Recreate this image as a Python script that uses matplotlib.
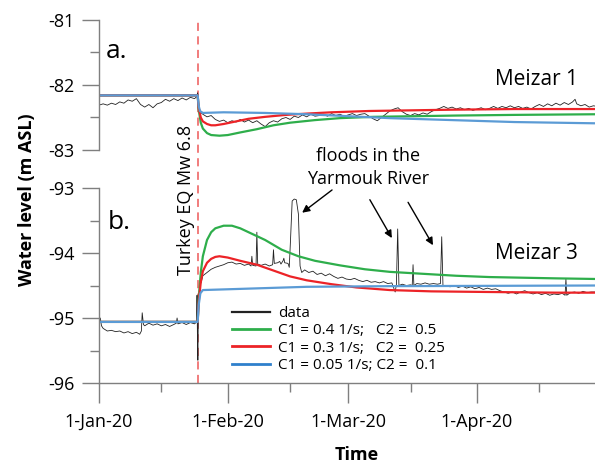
import matplotlib.pyplot as plt
import matplotlib.dates as mdates
import matplotlib.transforms as mtransforms
from matplotlib.lines import Line2D
import numpy as np
from datetime import datetime

plt.rcParams['font.family'] = ['Open Sans', 'DejaVu Sans']

### time axis: days after 1-Jan-20
t0 = mdates.date2num(datetime(2020, 1, 1))
t_end = 119.4
t_eq = 23.75

### Meizar 1 (panel a) - observed
m1_day = [0, 1, 2, 3, 4, 5, 6, 7, 8, 9, 10, 11, 12, 13, 14, 15, 16, 17, 18, 19,
          20, 21, 22, 23, 23.5, 23.75, 24.0, 24.4, 25, 26, 27, 28, 29, 30, 31, 32,
          33, 34, 35, 36, 37, 38, 39, 40, 41, 42, 43, 44, 45, 46, 47, 48, 49, 50,
          51, 52, 53, 54, 55, 56, 57, 58, 59, 60, 61, 62, 63, 64, 65, 66, 67, 68,
          69, 70, 71, 72, 73, 74, 75, 76, 77, 78, 79, 80, 81, 82, 83, 84, 85, 86,
          87, 88, 89, 90, 91, 92, 93, 94, 95, 96, 97, 98, 99, 100, 101, 102, 103,
          104, 105, 106, 107, 108, 109, 110, 111, 112, 113, 114, 114.6, 115, 116,
          117, 118, 119, 120]
m1_level = [-82.31, -82.29, -82.31, -82.28, -82.30, -82.26, -82.28, -82.23, -82.25,
            -82.21, -82.30, -82.34, -82.30, -82.35, -82.29, -82.27, -82.22, -82.25,
            -82.21, -82.24, -82.20, -82.23, -82.19, -82.21, -82.18, -82.12, -82.30,
            -82.42, -82.45, -82.49, -82.47, -82.53, -82.56, -82.54, -82.58, -82.55,
            -82.57, -82.53, -82.57, -82.54, -82.58, -82.55, -82.60, -82.64, -82.58,
            -82.55, -82.57, -82.52, -82.50, -82.53, -82.48, -82.50, -82.46, -82.49,
            -82.45, -82.48, -82.47, -82.45, -82.48, -82.44, -82.47, -82.45, -82.48,
            -82.46, -82.44, -82.47, -82.45, -82.44, -82.48, -82.52, -82.55, -82.50,
            -82.45, -82.40, -82.37, -82.35, -82.41, -82.45, -82.47, -82.44, -82.46,
            -82.43, -82.45, -82.41, -82.38, -82.36, -82.33, -82.36, -82.34, -82.37,
            -82.35, -82.38, -82.36, -82.39, -82.37, -82.35, -82.38, -82.36, -82.33,
            -82.36, -82.33, -82.35, -82.32, -82.35, -82.33, -82.36, -82.34, -82.37,
            -82.33, -82.30, -82.33, -82.29, -82.32, -82.28, -82.31, -82.27, -82.30,
            -82.26, -82.22, -82.29, -82.32, -82.30, -82.34, -82.32, -82.33]

### Meizar 1 - models
m1_green_day = [0, 23.75, 24.0, 24.5, 25, 26, 27, 29, 31, 34, 38, 42, 46, 52, 58,
                66, 76, 86, 100, 120]
m1_green = [-82.16, -82.16, -82.38, -82.58, -82.67, -82.74, -82.77, -82.78, -82.77,
            -82.73, -82.68, -82.62, -82.58, -82.54, -82.51, -82.49, -82.48, -82.47,
            -82.46, -82.45]
m1_red_day = [0, 23.75, 24.0, 24.5, 25, 26, 27, 28, 30, 33, 36, 40, 45, 50, 56, 65,
              75, 85, 100, 120]
m1_red = [-82.16, -82.16, -82.35, -82.50, -82.56, -82.60, -82.62, -82.62, -82.60,
          -82.56, -82.52, -82.49, -82.46, -82.44, -82.42, -82.40, -82.39, -82.38,
          -82.37, -82.37]
m1_blue_day = [0, 23.75, 24.0, 24.3, 25, 30, 40, 50, 60, 70, 80, 90, 100, 110, 120]
m1_blue = [-82.16, -82.16, -82.32, -82.40, -82.43, -82.42, -82.43, -82.45, -82.48,
           -82.51, -82.53, -82.55, -82.57, -82.58, -82.59]

### Meizar 3 (panel b) - observed
m3_day = [0, 0.3, 0.6, 1, 1.5, 2, 3, 4, 5, 6, 7, 8, 9, 9.8, 10.2, 10.4, 10.7, 11,
          12, 13, 14, 15, 16, 17, 18, 18.6, 18.8, 19, 20, 21, 22, 23, 23.5, 23.6,
          23.7, 23.8, 23.9, 24.2, 24.6, 25, 26, 27, 28, 29, 30, 31, 32, 33, 34, 35,
          36, 36.6, 36.8, 37, 37.8, 38, 38.2, 39, 40, 41, 41.8, 42, 42.2, 43, 43.5,
          43.8, 44.3, 44.5, 44.7, 45.5, 45.8, 46.1, 46.5, 47, 47.5, 48, 48.4, 48.8,
          49.5, 50.5, 51.5, 52.5, 53.5, 54.5, 55.5, 56.5, 57.5, 58.5, 59.5, 60.5,
          61.5, 62.5, 63.5, 64.5, 65.5, 66.5, 67.5, 68.5, 69.5, 70.5, 71.3, 71.6,
          71.9, 72.2, 73, 74, 75, 75.4, 75.6, 75.8, 76.5, 77.5, 78.5, 79.5, 80.5,
          81.5, 82.2, 82.5, 82.8, 83.5, 84.5, 85.5, 86.5, 87.5, 88.5, 89.5, 90.5,
          91.5, 92.5, 93.5, 94.5, 95.5, 96.5, 97.5, 98.5, 99.5, 100.5, 101.5, 102.5,
          103.5, 104.5, 105.5, 106.5, 107.5, 108.5, 109.5, 110.5, 111.5, 112.2,
          112.4, 112.6, 113.5, 114.5, 115.5, 116.5, 117.5, 118.5, 119.5, 120]
m3_level = [-95.05, -95.00, -95.12, -95.16, -95.18, -95.20, -95.19, -95.21, -95.20,
            -95.23, -95.21, -95.24, -95.22, -95.25, -95.20, -94.92, -95.10, -95.12,
            -95.08, -95.11, -95.09, -95.12, -95.10, -95.13, -95.10, -95.08, -95.00,
            -95.09, -95.07, -95.10, -95.07, -95.09, -95.06, -94.65, -95.30, -95.65,
            -95.00, -94.50, -94.45, -94.35, -94.30, -94.25, -94.22, -94.20, -94.18,
            -94.15, -94.14, -94.17, -94.16, -94.19, -94.17, -94.20, -94.05, -94.19,
            -94.20, -93.68, -94.17, -94.19, -94.17, -94.20, -94.18, -93.95, -94.16,
            -94.15, -94.13, -94.17, -94.12, -94.08, -94.15, -94.16, -94.22, -93.80,
            -93.20, -93.17, -93.18, -93.40, -94.20, -94.30, -94.26, -94.30, -94.28,
            -94.33, -94.31, -94.35, -94.32, -94.36, -94.39, -94.37, -94.40, -94.41,
            -94.39, -94.42, -94.44, -94.42, -94.45, -94.44, -94.46, -94.44, -94.47,
            -94.46, -94.60, -94.48, -93.63, -94.50, -94.48, -94.50, -94.49, -94.50,
            -94.18, -94.50, -94.47, -94.48, -94.46, -94.48, -94.47, -94.48, -94.47,
            -93.75, -94.50, -94.50, -94.52, -94.50, -94.53, -94.51, -94.54, -94.52,
            -94.55, -94.53, -94.56, -94.54, -94.56, -94.55, -94.58, -94.60, -94.62,
            -94.60, -94.63, -94.60, -94.58, -94.61, -94.63, -94.61, -94.64, -94.62,
            -94.65, -94.63, -94.64, -94.62, -94.65, -94.40, -94.65, -94.61, -94.60,
            -94.62, -94.59, -94.61, -94.60, -94.60, -94.61]

### Meizar 3 - models
m3_green_day = [0, 23.75, 24.0, 24.5, 25, 26, 27, 28, 30, 32, 34, 36, 40, 44, 48,
                52, 58, 64, 70, 78, 86, 94, 102, 110, 120]
m3_green = [-95.06, -95.06, -94.70, -94.30, -94.05, -93.80, -93.68, -93.62, -93.58,
            -93.58, -93.62, -93.68, -93.80, -93.95, -94.05, -94.12, -94.19, -94.25,
            -94.29, -94.32, -94.35, -94.37, -94.38, -94.39, -94.40]
m3_red_day = [0, 23.75, 24.0, 24.5, 25, 26, 27, 28, 29, 31, 34, 38, 42, 46, 50, 56,
              62, 70, 80, 94, 110, 120]
m3_red = [-95.06, -95.06, -94.75, -94.45, -94.28, -94.15, -94.09, -94.06, -94.05,
          -94.07, -94.12, -94.18, -94.27, -94.36, -94.42, -94.48, -94.53, -94.57,
          -94.59, -94.60, -94.61, -94.61]
m3_blue_day = [0, 23.75, 24.0, 24.4, 25, 30, 40, 50, 70, 120]
m3_blue = [-95.06, -95.06, -94.80, -94.62, -94.57, -94.56, -94.54, -94.52, -94.51,
           -94.50]

legend_labels = ['data',
                 'C1 = 0.4 1/s;   C2 =  0.5',
                 'C1 = 0.3 1/s;   C2 =  0.25',
                 'C1 = 0.05 1/s; C2 =  0.1']

### flood arrows (tip, tail) in days / m ASL
flood_tip = [(48.9, -93.38), (70.5, -93.77), (80.4, -93.88)]
flood_tail = [(56.1, -93.03), (65.2, -93.18), (74.4, -93.22)]

### broken y axis: panel a shifted down under panel b
gap = 0.585
shift = (-93 + gap) - (-83)

c_green = '#2eae4b'
c_red = '#ec2327'
c_blue = '#5b9bd5'
c_axis = '#7f7f7f'

def tnum(days):
    return t0 + np.asarray(days, dtype=float)

fig = plt.figure(figsize=(5.95, 4.66), dpi=100)
ax = fig.add_axes([99/595, 1-383/466, 496/595, 363/466])

ax.axvline(tnum(t_eq), color='#f07272', lw=1.3, dashes=(4.5, 3))

# panel a
ax.plot(tnum(m1_day), np.array(m1_level) + shift, color='#222222', lw=0.6)
ax.plot(tnum(m1_green_day), np.array(m1_green) + shift, color=c_green, lw=1.6)
ax.plot(tnum(m1_red_day), np.array(m1_red) + shift, color=c_red, lw=1.6)
ax.plot(tnum(m1_blue_day), np.array(m1_blue) + shift, color=c_blue, lw=1.6)

# panel b
ax.plot(tnum(m3_day), m3_level, color='#222222', lw=0.6)
ax.plot(tnum(m3_green_day), m3_green, color=c_green, lw=1.6)
ax.plot(tnum(m3_red_day), m3_red, color=c_red, lw=1.6)
ax.plot(tnum(m3_blue_day), m3_blue, color=c_blue, lw=1.6)

ax.set_xlim(tnum(0), tnum(t_end))
ax.set_ylim(-96, -81 + shift)

### spines
for s in ['top', 'right', 'left']:
    ax.spines[s].set_visible(False)
ax.spines['bottom'].set_color(c_axis)
ax.spines['bottom'].set_linewidth(1)
trans = mtransforms.blended_transform_factory(ax.transAxes, ax.transData)
ax.plot([0, 0], [-96, -93], transform=trans, color=c_axis, lw=1, clip_on=False)
ax.plot([0, 0], [-83 + shift, -81 + shift], transform=trans, color=c_axis, lw=1,
        clip_on=False)

### y ticks
ymaj = [-96, -95, -94, -93, -83 + shift, -82 + shift, -81 + shift]
ylab = ['-96', '-95', '-94', '-93', '-83', '-82', '-81']
ymin = [-95.5, -94.5, -93.5, -82.5 + shift, -81.5 + shift]
ax.set_yticks(ymaj)
ax.set_yticklabels(ylab)
ax.set_yticks(ymin, minor=True)
ax.tick_params(axis='y', which='major', length=12.5, width=1, color=c_axis,
               labelsize=13, pad=5)
ax.tick_params(axis='y', which='minor', length=6.5, width=1, color=c_axis)

### x ticks
ax.xaxis.set_major_locator(mdates.MonthLocator())
ax.xaxis.set_minor_locator(mdates.MonthLocator(bymonthday=16))
ax.xaxis.set_major_formatter(mdates.DateFormatter('1-%b-%y'))
ax.tick_params(axis='x', which='major', length=14.5, width=1, color=c_axis,
               labelsize=13, pad=7)
ax.tick_params(axis='x', which='minor', length=6.5, width=1, color=c_axis)

### texts
fig.text(27/595, 1-200/466, 'Water level (m ASL)', rotation=90, ha='center',
         va='center', fontsize=13, fontweight='bold')
fig.text(357/595, 1-455/466, 'Time', ha='center', va='center', fontsize=13,
         fontweight='bold')
ax.text(0.014, 1-32/363, 'a.', transform=ax.transAxes, ha='left', va='center',
        fontsize=19)
ax.text(0.018, 1-203/363, 'b.', transform=ax.transAxes, ha='left', va='center',
        fontsize=19)
ax.text(tnum(105.2), -82.0 + shift + 0.09, 'Meizar 1', ha='center', va='center',
        fontsize=15)
ax.text(tnum(105.2), -94.015, 'Meizar 3', ha='center', va='center', fontsize=15)
ax.text(tnum(t_eq - 2.9), -93.18, 'Turkey EQ Mw 6.8', rotation=90, ha='center',
        va='center', fontsize=13)
ax.text(tnum(64.8), -92.685, 'floods in the\nYarmouk River', ha='center',
        va='center', fontsize=13, linespacing=1.35)
for tip, tail in zip(flood_tip, flood_tail):
    ax.annotate('', xy=(tnum(tip[0]), tip[1]), xytext=(tnum(tail[0]), tail[1]),
                arrowprops=dict(arrowstyle='-|>', color='k', lw=1,
                                mutation_scale=11, shrinkA=0, shrinkB=0))

### legend
handles = [Line2D([], [], color='#222222', lw=1.6),
           Line2D([], [], color=c_green, lw=2),
           Line2D([], [], color=c_red, lw=2),
           Line2D([], [], color='#2f80cc', lw=2)]
ax.legend(handles, legend_labels, loc='upper left',
          bbox_to_anchor=(232/595, 1-306/466), bbox_transform=fig.transFigure,
          frameon=False, borderpad=0, borderaxespad=0, handlelength=2.5,
          handletextpad=0.5, labelspacing=0.15, fontsize=11)

fig.savefig('out.png', dpi=100)
